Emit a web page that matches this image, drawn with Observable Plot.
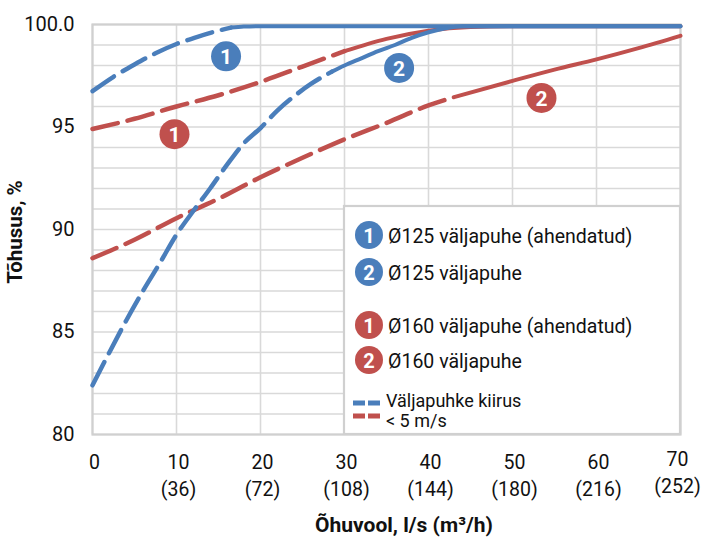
<!DOCTYPE html>
<html><head><meta charset="utf-8">
<script src="https://cdn.jsdelivr.net/npm/d3@7"></script>
<script src="https://cdn.jsdelivr.net/npm/@observablehq/plot@0.6"></script>
<style>body{margin:0;background:#fff}#chart{width:702px;height:539px}</style>
</head><body><div id="chart"></div>
<script>
const FONT = "Roboto, 'Noto Sans', sans-serif";
// axis ticks
const xTicks = [0, 10, 20, 30, 40, 50, 60, 70];
const xTickLabels = ["0", "10", "20", "30", "40", "50", "60", "70"];
const xTickLabels2 = ["", "(36)", "(72)", "(108)", "(144)", "(180)", "(216)", "(252)"];
const yTicks = [80, 85, 90, 95, 100];
const yTickLabels = ["80", "85", "90", "95", "100.0"];
const yGrid = d3.range(80, 101, 1);
const xTitle = "Õhuvool, l/s (m³/h)";
const yTitle = "Tõhusus, %";

// series
const seriesNames = ["Ø125 väljapuhe (ahendatud)", "Ø125 väljapuhe", "Ø160 väljapuhe (ahendatud)", "Ø160 väljapuhe"];
const seriesNums = ["1", "2", "1", "2"];
const seriesColors = ["#4a7ebb", "#4a7ebb", "#c0504d", "#c0504d"];

const blue1X = [0, 2.5, 5, 7.5, 10, 12.5, 15, 16.5, 18, 20, 30, 40, 50, 60, 70];
const blue1Y = [96.75, 97.45, 98.05, 98.6, 99.05, 99.4, 99.7, 99.85, 99.9, 99.92, 99.92, 99.92, 99.92, 99.92, 99.92];
const blue2X = [0, 2, 4, 6, 8, 10, 12, 14, 16, 18, 20, 22, 24, 26, 28.5, 30, 32, 34, 36, 38, 40, 42, 44, 50, 60, 70];
const blue2Y = [82.4, 84.0, 85.55, 87.0, 88.35, 89.75, 90.9, 92.0, 93.15, 94.2, 94.95, 95.8, 96.5, 97.1, 97.7, 98.0, 98.35, 98.7, 99.0, 99.35, 99.62, 99.82, 99.92, 99.92, 99.92, 99.92];
const red1X = [0, 5, 10, 15, 20, 25, 30, 35, 40, 45, 50, 60, 70];
const red1Y = [94.9, 95.4, 96.0, 96.55, 97.2, 97.95, 98.7, 99.3, 99.7, 99.88, 99.92, 99.92, 99.92];
const red2X = [0, 5, 10, 15, 20, 25, 30, 35, 40, 43, 50, 55, 60, 65, 70];
const red2Y = [88.6, 89.5, 90.55, 91.5, 92.55, 93.5, 94.4, 95.2, 96.05, 96.45, 97.25, 97.8, 98.3, 98.85, 99.45];
const seriesX = [blue1X, blue2X, red1X, red2X];
const seriesY = [blue1Y, blue2Y, red1Y, red2Y];
// velocity < 5 m/s (dashed) up to this flow
const dashEnds = [16.5, 28.5, 30, 43];
// circled number positions on the chart
const labelX = [15.9, 36.5, 9.76, 53.45];
const labelY = [98.45, 97.88, 94.65, 96.42];

const legendTitle1 = "Väljapuhke kiirus";
const legendTitle2 = "< 5 m/s";

const drawOrder = [2, 3, 0, 1];
const lineMarks = [];
for (const i of drawOrder) {
  const rows = seriesX[i].map((x, k) => ({x, y: seriesY[i][k]}));
  const dashed = rows.filter(d => d.x <= dashEnds[i]);
  const solid = rows.filter(d => d.x >= dashEnds[i]);
  lineMarks.push(Plot.line(dashed, {x: "x", y: "y", stroke: seriesColors[i], strokeWidth: 4.5, strokeDasharray: "26,10", curve: "monotone-x"}));
  lineMarks.push(Plot.line(solid, {x: "x", y: "y", stroke: seriesColors[i], strokeWidth: 4, curve: "monotone-x"}));
}
const labelRows = seriesNames.map((n, i) => ({x: labelX[i], y: labelY[i], t: seriesNums[i], c: seriesColors[i]}));

const mainTicks = xTicks.slice(0, -1);
const lastTick = xTicks.slice(-1);
const fmt1 = d => xTickLabels[xTicks.indexOf(d)];
const fmt2 = d => xTickLabels2[xTicks.indexOf(d)];
const tickStyle = {tickSize: 0, fontSize: 19.5, fill: "#111", label: null};

const chart = Plot.plot({
  width: 702, height: 539,
  marginLeft: 92, marginRight: 22, marginTop: 24, marginBottom: 105,
  style: {fontFamily: FONT, background: "#fff", overflow: "visible"},
  x: {domain: [0, 70]},
  y: {domain: [80, 100]},
  marks: [
    Plot.gridY(yGrid, {stroke: "#d9d9d9", strokeOpacity: 1, strokeWidth: 1.6}),
    Plot.gridX(xTicks, {stroke: "#d9d9d9", strokeOpacity: 1, strokeWidth: 1.6}),
    Plot.frame({stroke: "#d0d0d0", strokeWidth: 2.2}),
    Plot.axisY(yTicks, {...tickStyle, fontSize: 20, tickPadding: 18, tickFormat: d => yTickLabels[yTicks.indexOf(d)]}),
    Plot.axisX(mainTicks, {...tickStyle, tickPadding: 21, tickFormat: fmt1, dx: 2}),
    Plot.axisX(mainTicks, {...tickStyle, tickPadding: 48, tickFormat: fmt2, dx: 2}),
    Plot.axisX(lastTick, {...tickStyle, tickPadding: 18, tickFormat: fmt1, dx: -3}),
    Plot.axisX(lastTick, {...tickStyle, tickPadding: 45, tickFormat: fmt2, dx: -3}),
    ...lineMarks,
    Plot.dot(labelRows, {x: "x", y: "y", r: 15, fill: d => d.c, stroke: null}),
    Plot.text(labelRows, {x: "x", y: "y", text: "t", fill: "white", fontWeight: "bold", fontSize: 21, dy: 1})
  ]
});
document.getElementById("chart").appendChild(chart);

const svg = d3.select(chart);
// axis titles
svg.append("text").attr("x", 404).attr("y", 525).attr("text-anchor", "middle").attr("dominant-baseline", "central")
  .attr("font-family", FONT).attr("font-size", 21).attr("font-weight", "bold").attr("fill", "#111").text(xTitle);
svg.append("text").attr("transform", "translate(15,232) rotate(-90)").attr("text-anchor", "middle").attr("dominant-baseline", "central")
  .attr("font-family", FONT).attr("font-size", 20.5).attr("font-weight", "bold").attr("fill", "#111").text(yTitle);

// legend
const lg = svg.append("g");
lg.append("rect").attr("x", 344).attr("y", 206).attr("width", 336).attr("height", 228)
  .attr("fill", "#fff").attr("stroke", "#d0d0d0").attr("stroke-width", 2.2);
const legendYs = [235, 272, 325, 360];
seriesNames.forEach((n, i) => {
  lg.append("circle").attr("cx", 369).attr("cy", legendYs[i]).attr("r", 14).attr("fill", seriesColors[i]);
  lg.append("text").attr("x", 369).attr("y", legendYs[i] + 1).attr("text-anchor", "middle").attr("dominant-baseline", "central")
    .attr("font-family", FONT).attr("font-size", 20).attr("font-weight", "bold").attr("fill", "#fff").text(seriesNums[i]);
  lg.append("text").attr("x", 388).attr("y", legendYs[i] + 1).attr("text-anchor", "start").attr("dominant-baseline", "central")
    .attr("font-family", FONT).attr("font-size", 19.5).attr("fill", "#111").text(n);
});
[[403, seriesColors[0]], [416, seriesColors[2]]].forEach(([y, c]) => {
  lg.append("line").attr("x1", 353).attr("x2", 380).attr("y1", y).attr("y2", y)
    .attr("stroke", c).attr("stroke-width", 5).attr("stroke-dasharray", "12,3");
});
lg.append("text").attr("x", 386).attr("y", 400).attr("text-anchor", "start").attr("dominant-baseline", "central")
  .attr("font-family", FONT).attr("font-size", 18).attr("fill", "#111").text(legendTitle1);
lg.append("text").attr("x", 386).attr("y", 420).attr("text-anchor", "start").attr("dominant-baseline", "central")
  .attr("font-family", FONT).attr("font-size", 18).attr("fill", "#111").text(legendTitle2);
</script>
</body></html>
